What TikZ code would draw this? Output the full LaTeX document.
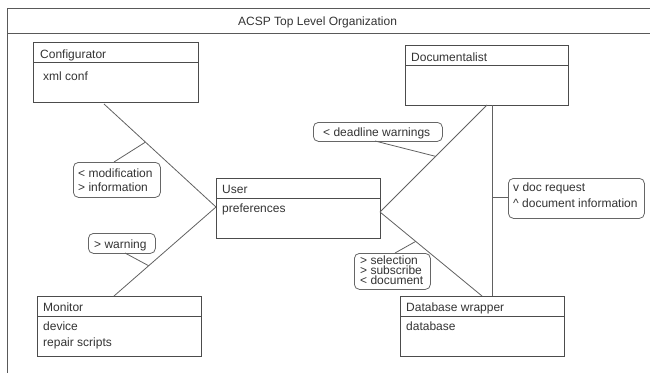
\documentclass[tikz,border=0pt]{standalone}
\usepackage{fontspec}
\setmainfont{Liberation Sans}
\usetikzlibrary{calc}
\begin{document}
\begin{tikzpicture}[x=1pt,y=-1pt,
  txt/.style={font=\fontsize{12}{14}\selectfont, text=black!80, inner sep=0pt, anchor=base west},
  tight/.style={text height=7.5pt, text depth=2pt},
  clsbox/.style={draw=black!70, line width=0.8pt, inner sep=0pt, anchor=north west, minimum height=60pt},
  lblbox/.style={draw=black!60, line width=0.8pt, rounded corners=5pt, inner sep=0pt, anchor=north west},
  conn/.style={draw=black!62, line width=0.8pt},
  frame/.style={draw=black!65, line width=0.8pt}]
\useasboundingbox (0,0) rectangle (650,372);
\begin{scope}
\clip (0,0) rectangle (650,372);
\draw[frame] (7,380) -- (7,8) -- (660,8);
\draw[frame] (7,33) -- (660,33);
\end{scope}
\node[txt] (title) at (238,25) {ACSP Top Level Organization};

% class boxes
\node[clsbox, minimum width=165pt] (cfg) at (33,42) {};
\node[clsbox, minimum width=163pt] (doc) at (405,45) {};
\node[clsbox, minimum width=164pt] (usr) at (216,178) {};
\node[clsbox, minimum width=164pt] (mon) at (37,296) {};
\node[clsbox, minimum width=164pt] (dbw) at (400,296) {};
\foreach \b in {cfg,doc,usr,mon,dbw}
  \draw[draw=black!70, line width=0.8pt] ([yshift=-20pt]\b.north west) -- ([yshift=-20pt]\b.north east);

\node[txt] (cfgT) at (40,58) {Configurator};
\node[txt] (cfgA) at (43,80) {xml conf};
\node[txt] (docT) at (411,61) {Documentalist};
\node[txt] (usrT) at (222,193) {User};
\node[txt] (usrA) at (222,212) {preferences};
\node[txt] (monT) at (43,311) {Monitor};
\node[txt] (monA) at (43,330) {device};
\node[txt] (monB) at (43,346) {repair scripts};
\node[txt] (dbwT) at (406,311) {Database wrapper};
\node[txt] (dbwA) at (406,330) {database};

% connector end points
\coordinate (cfgS) at (104,104);
\coordinate (usrL) at (216,207);
\coordinate (monN) at (114,296);
\coordinate (usrR) at (380,212);
\coordinate (docS) at (487,105);
\coordinate (dbwN) at (482,296);
\coordinate (docV) at (492,105);
\coordinate (dbwV) at (492,296);

\draw[conn] (cfgS) -- (usrL);
\draw[conn] (monN) -- (usrL);
\draw[conn] (usrR) -- (docS);
\draw[conn] (usrR) -- (dbwN);
\draw[conn] (docV) -- (dbwV);

% label boxes
\node[lblbox, minimum width=87pt, minimum height=35pt] (modL) at (73,162) {};
\node[txt] (modA) at (78,177) {< modification};
\node[txt] (modB) at (78,191) {> information};
\draw[conn] (114,162) coordinate (modP) -- ($(cfgS)!0.37!(usrL)$) coordinate (modQ);

\node[lblbox, minimum width=67pt, minimum height=20pt] (warnL) at (88,233) {};
\node[txt] (warnA) at (94,248) {> warning};
\draw[conn] (125,253) coordinate (warnP) -- ($(monN)!0.34!(usrL)$) coordinate (warnQ);

\node[lblbox, minimum width=129pt, minimum height=19pt] (dlL) at (313,122) {};
\node[txt] (dlA) at (323,136) {< deadline warnings};
\draw[conn] (375,141) coordinate (dlP) -- ($(usrR)!0.52!(docS)$) coordinate (dlQ);

\node[lblbox, minimum width=136pt, minimum height=40pt] (drL) at (508,178) {};
\node[txt] (drA) at (513,191) {v doc request};
\node[txt] (drB) at (513,207) {\textasciicircum{} document information};
\draw[conn] (492,197) coordinate (drQ) -- (508,197) coordinate (drP);

\node[lblbox, minimum width=76pt, minimum height=36pt] (selL) at (354,253) {};
\node[txt, tight] (selA) at (360,264) {> selection};
\node[txt, tight] (selB) at (360,274) {> subscribe};
\node[txt, tight] (selC) at (360,284) {< document};
\draw[conn] (395,253) coordinate (selP) -- ($(usrR)!0.35!(dbwN)$) coordinate (selQ);
\end{tikzpicture}
\end{document}
